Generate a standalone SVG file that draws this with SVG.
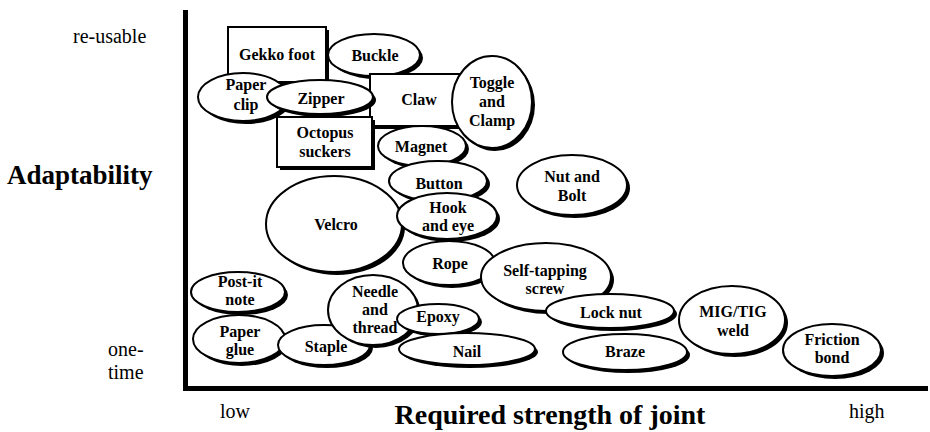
<svg xmlns="http://www.w3.org/2000/svg" width="930" height="432" viewBox="0 0 930 432">
<defs>
<style>
.sh{fill:#000}
.nd{fill:#fff;stroke:#000;stroke-width:2}
.lb{font-family:"Liberation Serif","Times New Roman",serif;font-weight:bold;font-size:16px;text-anchor:middle;fill:#000}
.ax{font-family:"Liberation Serif","Times New Roman",serif;font-size:20px;fill:#000}
.tt{font-family:"Liberation Serif","Times New Roman",serif;font-weight:bold;fill:#000}
</style>
</defs>
<rect width="930" height="432" fill="#fff"/>
<g id="axes">
<rect x="183" y="10" width="5" height="381" fill="#000"/>
<rect x="183" y="386" width="745" height="5" fill="#000"/>
<text class="ax" x="73" y="43">re-usable</text>
<text class="tt" x="7" y="184" font-size="27">Adaptability</text>
<text class="ax" x="108" y="356">one-</text>
<text class="ax" x="108" y="379">time</text>
<text class="ax" x="220" y="418">low</text>
<text class="tt" x="550" y="424" font-size="28" text-anchor="middle">Required strength of joint</text>
<text class="ax" x="849" y="418">high</text>
</g>
<g id="connectors"/>
<g id="n-gekko"><rect class="sh" x="231" y="30" width="98" height="55"/><rect class="nd" x="228" y="27" width="98" height="55"/><text class="lb" x="277" y="60">Gekko foot</text></g>
<g id="n-buckle"><ellipse class="sh" cx="377" cy="58" rx="46" ry="21"/><ellipse class="nd" cx="374" cy="55" rx="46" ry="21"/><text class="lb" x="375" y="61">Buckle</text></g>
<g id="n-paperclip"><ellipse class="sh" cx="246" cy="100" rx="45" ry="24"/><ellipse class="nd" cx="243" cy="97" rx="45" ry="24"/><text class="lb" x="246" y="90">Paper</text><text class="lb" x="246" y="110">clip</text></g>
<g id="n-claw"><rect class="sh" x="373" y="77" width="98" height="52"/><rect class="nd" x="370" y="74" width="98" height="52"/><text class="lb" x="419" y="105">Claw</text></g>
<g id="n-zipper"><ellipse class="sh" cx="323" cy="100" rx="53" ry="17"/><ellipse class="nd" cx="320" cy="97" rx="53" ry="17"/><text class="lb" x="321" y="104">Zipper</text></g>
<g id="n-toggle"><ellipse class="sh" cx="495" cy="105" rx="40" ry="46"/><ellipse class="nd" cx="492" cy="102" rx="40" ry="46"/><text class="lb" x="492" y="88">Toggle</text><text class="lb" x="492" y="107">and</text><text class="lb" x="492" y="126">Clamp</text></g>
<g id="n-octopus"><rect class="sh" x="280" y="120" width="95" height="50"/><rect class="nd" x="277" y="117" width="95" height="50"/><text class="lb" x="325" y="138">Octopus</text><text class="lb" x="325" y="157">suckers</text></g>
<g id="n-magnet"><ellipse class="sh" cx="425" cy="149" rx="44" ry="20"/><ellipse class="nd" cx="422" cy="146" rx="44" ry="20"/><text class="lb" x="421" y="152">Magnet</text></g>
<g id="n-velcro"><ellipse class="sh" cx="337" cy="227" rx="68" ry="48"/><ellipse class="nd" cx="334" cy="224" rx="68" ry="48"/><text class="lb" x="336" y="230">Velcro</text></g>
<g id="n-button"><ellipse class="sh" cx="441" cy="184" rx="49" ry="20"/><ellipse class="nd" cx="438" cy="181" rx="49" ry="20"/><text class="lb" x="439" y="189">Button</text></g>
<g id="n-hook"><ellipse class="sh" cx="450" cy="219" rx="50" ry="23"/><ellipse class="nd" cx="447" cy="216" rx="50" ry="23"/><text class="lb" x="448" y="213">Hook</text><text class="lb" x="448" y="231">and eye</text></g>
<g id="n-nutbolt"><ellipse class="sh" cx="575" cy="188" rx="55" ry="30"/><ellipse class="nd" cx="572" cy="185" rx="55" ry="30"/><text class="lb" x="572" y="182">Nut and</text><text class="lb" x="572" y="201">Bolt</text></g>
<g id="n-rope"><ellipse class="sh" cx="452" cy="266" rx="46" ry="22"/><ellipse class="nd" cx="449" cy="263" rx="46" ry="22"/><text class="lb" x="450" y="269">Rope</text></g>
<g id="n-selftap"><ellipse class="sh" cx="549" cy="280" rx="65" ry="34"/><ellipse class="nd" cx="546" cy="277" rx="65" ry="34"/><text class="lb" x="545" y="276">Self-tapping</text><text class="lb" x="545" y="294">screw</text></g>
<g id="n-postit"><ellipse class="sh" cx="241" cy="295" rx="47" ry="20"/><ellipse class="nd" cx="238" cy="292" rx="47" ry="20"/><text class="lb" x="240" y="287">Post-it</text><text class="lb" x="240" y="305">note</text></g>
<g id="n-paperglue"><ellipse class="sh" cx="242" cy="342" rx="46" ry="24"/><ellipse class="nd" cx="239" cy="339" rx="46" ry="24"/><text class="lb" x="240" y="337">Paper</text><text class="lb" x="240" y="355">glue</text></g>
<g id="n-staple"><ellipse class="sh" cx="327" cy="348" rx="46" ry="20"/><ellipse class="nd" cx="324" cy="345" rx="46" ry="20"/><text class="lb" x="326" y="352">Staple</text></g>
<g id="n-needle"><ellipse class="sh" cx="376" cy="313" rx="45" ry="35"/><ellipse class="nd" cx="373" cy="310" rx="45" ry="35"/><text class="lb" x="375" y="297">Needle</text><text class="lb" x="375" y="315">and</text><text class="lb" x="375" y="333">thread</text></g>
<g id="n-epoxy"><ellipse class="sh" cx="441" cy="322" rx="41" ry="15"/><ellipse class="nd" cx="438" cy="319" rx="41" ry="15"/><text class="lb" x="438" y="322">Epoxy</text></g>
<g id="n-nail"><ellipse class="sh" cx="470" cy="352" rx="68" ry="16"/><ellipse class="nd" cx="467" cy="349" rx="68" ry="16"/><text class="lb" x="467" y="357">Nail</text></g>
<g id="n-locknut"><ellipse class="sh" cx="613" cy="314" rx="64" ry="17"/><ellipse class="nd" cx="610" cy="311" rx="64" ry="17"/><text class="lb" x="611" y="318">Lock nut</text></g>
<g id="n-braze"><ellipse class="sh" cx="628" cy="355" rx="62" ry="18"/><ellipse class="nd" cx="625" cy="352" rx="62" ry="18"/><text class="lb" x="625" y="357">Braze</text></g>
<g id="n-migtig"><ellipse class="sh" cx="735" cy="323" rx="53" ry="34"/><ellipse class="nd" cx="732" cy="320" rx="53" ry="34"/><text class="lb" x="733" y="317">MIG/TIG</text><text class="lb" x="733" y="336">weld</text></g>
<g id="n-friction"><ellipse class="sh" cx="835" cy="353" rx="49" ry="26"/><ellipse class="nd" cx="832" cy="350" rx="49" ry="26"/><text class="lb" x="832" y="345">Friction</text><text class="lb" x="832" y="363">bond</text></g>
</svg>
